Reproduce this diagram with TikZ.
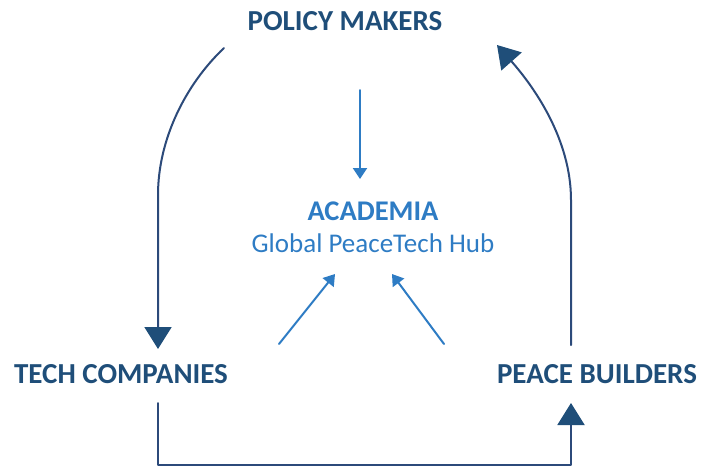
\documentclass[tikz,border=0pt]{standalone}
\usepackage{fontspec}
\setmainfont{Carlito}
\usetikzlibrary{arrows.meta}
\definecolor{navy}{RGB}{31,78,121}
\definecolor{navyline}{RGB}{44,74,122}
\definecolor{hubblue}{RGB}{46,124,196}

\begin{document}
\begin{tikzpicture}[line cap=round,line join=round,x=1pt,y=-1pt,
	actor/.style={text=navy,font=\fontsize{29}{32}\selectfont\bfseries,inner sep=0pt},
	bigflow/.style={draw=navyline,line width=2pt,-{Triangle[length=22pt,width=27pt,fill=navy,color=navy]}},
	smallflow/.style={draw=hubblue,line width=2pt,-{Triangle[length=11pt,width=14pt]}}]
		\useasboundingbox (0,0) rectangle (701,467);
		% actors
		\node[actor] (policy) at (345,21) {POLICY MAKERS};
		\node[actor] (tech) at (121,374) {TECH COMPANIES};
		\node[actor] (builders) at (597,374) {PEACE BUILDERS};
		\node[text=hubblue,inner sep=0pt,align=center,font=\fontsize{27}{32}\selectfont] (academia) at (373,227)
			{{\fontsize{28.5}{32}\selectfont\bfseries ACADEMIA}\\Global PeaceTech Hub};
		% ends of the flows
		\coordinate (pmOut) at (224,48);
		\coordinate (pmIn) at (497,45);
		\coordinate (pmDown) at (360,90);
		\coordinate (tcIn) at (158,349);
		\coordinate (tcOut) at (158,403);
		\coordinate (tcUp) at (279,344);
		\coordinate (pbIn) at (571,403);
		\coordinate (pbOut) at (571,345);
		\coordinate (pbUp) at (444,344);
		\coordinate (acTop) at (360,179);
		\coordinate (acLeft) at (335,274);
		\coordinate (acRight) at (392,274);
		% the cycle
		\draw[bigflow] (pmOut) .. controls (185,85) and (158,140) .. (158,195) -- (tcIn);
		\draw[bigflow] (tcOut) -- ++(0,62) -| (pbIn);
		\draw[bigflow] (pbOut) -- (571,200) .. controls (571,140) and (535,88) .. (pmIn);
		% into academia
		\draw[smallflow] (pmDown) -- (acTop);
		\draw[smallflow] (tcUp) -- (acLeft);
		\draw[smallflow] (pbUp) -- (acRight);
\end{tikzpicture}
\end{document}
